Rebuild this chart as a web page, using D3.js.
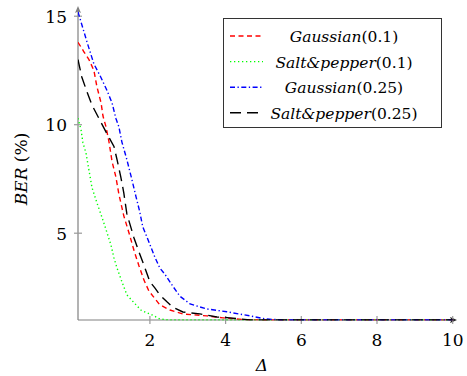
<!DOCTYPE html>
<html>
<head>
<meta charset="utf-8">
<script src="https://cdn.jsdelivr.net/npm/d3@7"></script>
<style>
  body { margin: 0; background: #fff; }
</style>
</head>
<body>
<div id="viz"></div>
<script>
// values: [delta, BER %]
const gaussian01 = [[0.1,13.8],[0.26,13.35],[0.39,13.0],[0.52,12.5],[0.6,11.75],[0.71,11.0],[0.76,10.4],[0.84,9.9],[0.92,9.2],[1.0,8.3],[1.1,7.6],[1.18,6.8],[1.31,5.8],[1.45,5.0],[1.58,4.2],[1.71,3.5],[1.84,2.85],[1.97,2.35],[2.08,2.1],[2.26,1.7],[2.53,1.46],[2.87,1.28],[3.5,1.19],[3.93,1.1],[4.5,1.02],[5,1.0],[6,1.0],[7,1.0],[8,1.0],[9,1.0],[10,1.0]];
const saltPepper01 = [[0.1,10.3],[0.18,9.77],[0.23,9.17],[0.31,8.7],[0.39,7.9],[0.47,7.1],[0.6,6.4],[0.73,5.75],[0.86,5.06],[0.97,4.46],[1.05,3.86],[1.13,3.4],[1.26,2.76],[1.39,2.16],[1.58,1.8],[1.76,1.46],[1.92,1.33],[2.05,1.24],[2.26,1.05],[2.5,1.0],[3,1.0],[4,1.0],[5,1.0],[6,1.0],[7,1.0],[8,1.0],[9,1.0],[10,1.0]];
const gaussian025 = [[0.1,15.2],[0.34,13.8],[0.52,12.8],[0.7,12.2],[0.86,11.6],[1.0,11.0],[1.1,10.3],[1.18,9.9],[1.26,9.2],[1.39,8.4],[1.52,7.5],[1.63,6.7],[1.73,6.0],[1.81,5.3],[1.95,4.7],[2.13,3.9],[2.26,3.4],[2.4,3.1],[2.6,2.57],[2.79,2.1],[3.06,1.74],[3.5,1.51],[4.03,1.38],[4.64,1.19],[5.04,1.05],[5.5,1.0],[6,1.0],[7,1.0],[8,1.0],[9,1.0],[10,1.0]];
const saltPepper025 = [[0.1,13.0],[0.2,12.2],[0.34,11.5],[0.47,10.9],[0.68,10.2],[0.86,9.6],[1.05,9.0],[1.13,8.4],[1.23,7.6],[1.31,6.86],[1.39,5.9],[1.58,4.78],[1.71,4.14],[1.84,3.54],[2.0,2.76],[2.13,2.48],[2.26,2.16],[2.45,1.84],[2.6,1.6],[2.87,1.37],[3.32,1.28],[3.77,1.14],[4.11,1.1],[4.64,1.0],[5,1.0],[6,1.0],[7,1.0],[8,1.0],[9,1.0],[10,1.0]];

const seriesNames = ["Gaussian", "Salt&pepper", "Gaussian", "Salt&pepper"];
const seriesParams = ["(0.1)", "(0.1)", "(0.25)", "(0.25)"];
const xTicks = [2, 4, 6, 8, 10];
const yTicks = [5, 10, 15];

const svg = d3.select("#viz")
    .append("svg")
    .attr("width", 467)
    .attr("height", 376)
    .style("font-family", "'DejaVu Serif', serif");

// scales, the plot starts at delta = 0.1 and BER = 1
const xScale = d3.scaleLinear().domain([0.1, 10]).range([78, 452.7]);
const yScale = d3.scaleLinear().domain([1.0, 15.3]).range([320, 9.7]);

// line styles of the four series
const styles = [
    { color: "#ff0000", dash: "5,3.5" },
    { color: "#00ff00", dash: "1.3,2.7" },
    { color: "#0000ff", dash: "5,2.5,1.3,2.5" },
    { color: "#000000", dash: "11,6" }
];
const data = [gaussian01, saltPepper01, gaussian025, saltPepper025];

svg.append("defs").append("clipPath").attr("id", "plot")
    .append("rect").attr("x", 78).attr("y", 0).attr("width", 380).attr("height", 320.5);

// axes, gray lines with arrow heads
const axis = svg.append("g").attr("stroke", "#808080").attr("stroke-width", 1.2);
axis.append("line").attr("x1", 78).attr("y1", 320).attr("x2", 455).attr("y2", 320);
axis.append("line").attr("x1", 78).attr("y1", 320).attr("x2", 78).attr("y2", 8);
svg.append("path").attr("d", "M457,320 L450,317 L451.5,320 L450,323 Z").attr("fill", "#222");
svg.append("path").attr("d", "M78,6 L75,13 L78,11.5 L81,13 Z").attr("fill", "#808080");

// ticks crossing the axes
svg.append("g").selectAll("line").data(xTicks).enter().append("line")
    .attr("x1", (d) => xScale(d)).attr("x2", (d) => xScale(d))
    .attr("y1", 316).attr("y2", 324)
    .attr("stroke", "#999").attr("stroke-width", 1.2);
svg.append("g").selectAll("text").data(xTicks).enter().append("text")
    .attr("x", (d) => xScale(d)).attr("y", 346)
    .attr("text-anchor", "middle").attr("font-size", 17)
    .text((d) => d);

svg.append("g").selectAll("line").data(yTicks).enter().append("line")
    .attr("x1", 74).attr("x2", 82)
    .attr("y1", (d) => yScale(d)).attr("y2", (d) => yScale(d))
    .attr("stroke", "#999").attr("stroke-width", 1.2);
svg.append("g").selectAll("text").data(yTicks).enter().append("text")
    .attr("x", 67).attr("y", (d) => yScale(d) + 6.5)
    .attr("text-anchor", "end").attr("font-size", 17)
    .text((d) => d);

// axis titles
const yTitle = svg.append("text")
    .attr("transform", "translate(27,169) rotate(-90)")
    .attr("text-anchor", "middle").attr("font-size", 17);
yTitle.append("tspan").attr("font-style", "italic").text("BER");
yTitle.append("tspan").text(" (%)");

svg.append("text")
    .attr("x", 262).attr("y", 371)
    .attr("text-anchor", "middle").attr("font-size", 17).attr("font-style", "italic")
    .text("Δ");

// the curves
const line = d3.line()
    .x((d) => xScale(d[0]))
    .y((d) => yScale(d[1]));

svg.append("g").attr("clip-path", "url(#plot)")
    .selectAll("path").data(data).enter().append("path")
    .attr("d", line)
    .attr("fill", "none")
    .attr("stroke", (d, i) => styles[i].color)
    .attr("stroke-dasharray", (d, i) => styles[i].dash)
    .attr("stroke-width", 1.4);

// legend
const legend = svg.append("g");
legend.append("rect")
    .attr("x", 223.5).attr("y", 18.5).attr("width", 218).attr("height", 109)
    .attr("fill", "#fff").attr("stroke", "#333").attr("stroke-width", 1);

const rows = legend.selectAll("g.row").data(seriesNames).enter().append("g")
    .attr("class", "row")
    .attr("transform", (d, i) => "translate(0," + (36 + i * 25.6) + ")");
rows.append("line")
    .attr("x1", 230).attr("x2", 263).attr("y1", 0).attr("y2", 0)
    .attr("stroke", (d, i) => styles[i].color)
    .attr("stroke-dasharray", (d, i) => styles[i].dash)
    .attr("stroke-width", 1.4);
const labels = rows.append("text")
    .attr("x", 344).attr("y", 6)
    .attr("text-anchor", "middle").attr("font-size", 15.5);
labels.append("tspan").attr("font-style", "italic").text((d) => d);
labels.append("tspan").text((d, i) => seriesParams[i]);
</script>
</body>
</html>
